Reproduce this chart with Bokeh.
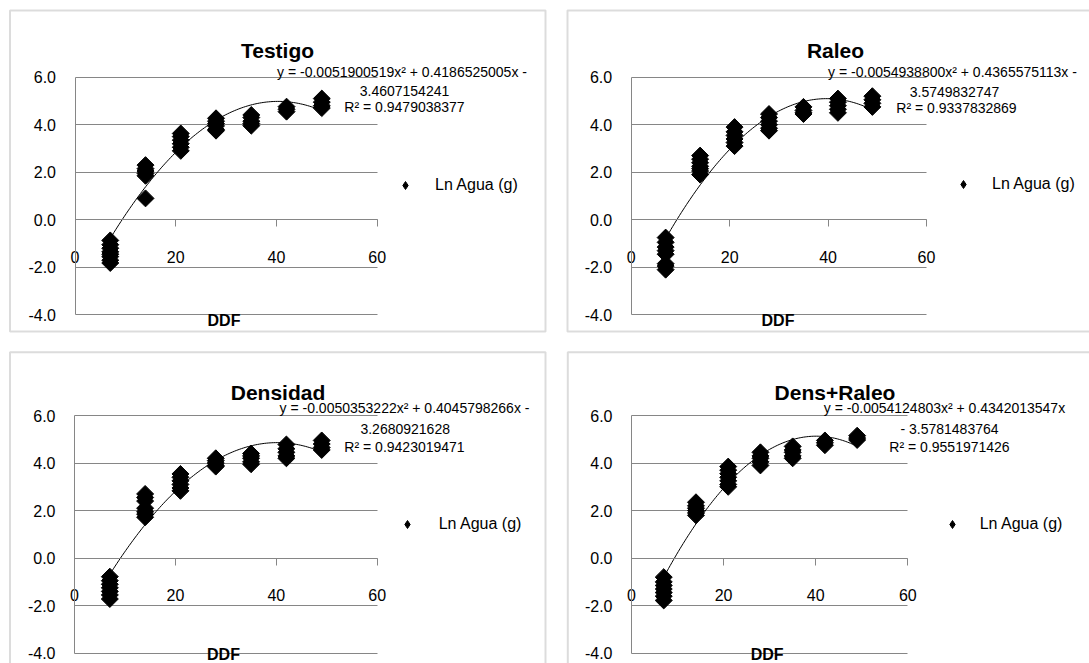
import numpy as np
from bokeh.plotting import figure
from bokeh.layouts import column, row
from bokeh.models import (Range1d, FixedTicker, PrintfTickFormatter, Label,
                          Legend, LegendItem, BoxAnnotation)
from bokeh.embed import file_html
from bokeh.resources import INLINE

# ---------------- data ----------------
days = [7, 14, 21, 28, 35, 42, 49]
x_ticks = [0, 20, 40, 60]
y_ticks = [-4, -2, 0, 2, 4, 6]
legend_label = "Ln Agua (g)"
x_title = "DDF"

testigo_vals = [
    [-0.87, -1.05, -1.2, -1.35, -1.45, -1.55, -1.7, -1.82],
    [2.3, 2.15, 2.05, 1.95, 1.85, 0.9],
    [3.63, 3.5, 3.35, 3.2, 3.05, 2.9],
    [4.27, 4.15, 4.05, 3.95, 3.8, 3.75],
    [4.41, 4.3, 4.15, 4.05, 3.96],
    [4.76, 4.65, 4.55],
    [5.1, 4.95, 4.8, 4.7],
]
raleo_vals = [
    [-0.75, -0.95, -1.15, -1.3, -1.45, -1.85, -1.95, -2.1],
    [2.7, 2.55, 2.4, 2.25, 2.15, 2.05, 1.9],
    [3.9, 3.7, 3.55, 3.4, 3.25, 3.1],
    [4.45, 4.3, 4.15, 4.0, 3.85, 3.75],
    [4.75, 4.6, 4.5, 4.45],
    [5.1, 4.95, 4.8, 4.65, 4.5],
    [5.2, 5.05, 4.9, 4.75],
]
densidad_vals = [
    [-0.78, -0.95, -1.1, -1.25, -1.4, -1.55, -1.72],
    [2.7, 2.55, 2.4, 2.1, 1.95, 1.85, 1.72],
    [3.54, 3.4, 3.25, 3.1, 2.95, 2.83],
    [4.2, 4.1, 4.0, 3.9, 3.85],
    [4.4, 4.3, 4.2, 4.05, 3.95],
    [4.78, 4.6, 4.45, 4.3, 4.2],
    [4.95, 4.8, 4.65, 4.55],
]
densraleo_vals = [
    [-0.8, -1.0, -1.15, -1.3, -1.45, -1.6, -1.78],
    [2.35, 2.2, 2.1, 2.0, 1.9, 1.8],
    [3.85, 3.7, 3.55, 3.4, 3.25, 3.1, 3.0],
    [4.45, 4.3, 4.2, 4.05, 3.9],
    [4.7, 4.55, 4.45, 4.3, 4.2],
    [4.95, 4.85, 4.75],
    [5.15, 5.05, 4.97],
]

coef_testigo = [-0.0051900519, 0.4186525005, -3.4607154241]
coef_raleo = [-0.0054938800, 0.4365575113, -3.5749832747]
coef_densidad = [-0.0050353222, 0.4045798266, -3.2680921628]
coef_densraleo = [-0.0054124803, 0.4342013547, -3.5781483764]

eq_testigo = ["y = -0.0051900519x\u00b2 + 0.4186525005x -", "3.4607154241", "R\u00b2 = 0.9479038377"]
eq_raleo = ["y = -0.0054938800x\u00b2 + 0.4365575113x -", "3.5749832747", "R\u00b2 = 0.9337832869"]
eq_densidad = ["y = -0.0050353222x\u00b2 + 0.4045798266x -", "3.2680921628", "R\u00b2 = 0.9423019471"]
eq_densraleo = ["y = -0.0054124803x\u00b2 + 0.4342013547x", "- 3.5781483764", "R\u00b2 = 0.9551971426"]

# ---------------- style / layout ----------------
FONT = "Liberation Sans"
GRID = "#868686"
BORDER = "#8c8c8c"


def make_panel(spec, title, vals, coef, eq):
    fw, fh = spec["size"]
    x0p, x60p = spec["x0"], spec["x60"]
    y6p, ym4p = spec["y6"], spec["ym4"]
    sx = (x60p - x0p) / 60.0
    sy = (ym4p - y6p) / 10.0

    def X(px):
        return (px - x0p) / sx

    def Y(py):
        return 6 + (y6p - py) / sy

    p = figure(width=fw, height=fh, output_backend="svg", toolbar_location=None,
               x_range=Range1d(X(0), X(fw)), y_range=Range1d(Y(fh), Y(0)),
               min_border=0, min_border_left=0, min_border_right=0,
               min_border_top=0, min_border_bottom=0)
    p.outline_line_color = None
    p.background_fill_color = "white"
    p.border_fill_color = "white"

    # panel border
    bl, bt, br_, bb = spec["border"]
    p.add_layout(BoxAnnotation(left=X(bl), right=X(br_), top=Y(bt), bottom=Y(bb),
                               fill_alpha=0, line_color=BORDER, line_width=2))

    # axes
    xa = p.xaxis[0]
    xa.fixed_location = 0
    xa.bounds = (x_ticks[0], x_ticks[-1])
    xa.ticker = FixedTicker(ticks=x_ticks)
    xa.axis_line_color = GRID
    xa.major_tick_line_color = GRID
    xa.major_tick_out = 7
    xa.major_tick_in = 0
    xa.minor_tick_out = 0
    xa.minor_tick_in = 0
    xa.major_label_text_font = FONT
    xa.major_label_text_font_size = "16px"
    xa.major_label_text_color = "black"
    xa.major_label_standoff = 24

    ya = p.yaxis[0]
    ya.fixed_location = 0
    ya.bounds = (y_ticks[0], y_ticks[-1])
    ya.ticker = FixedTicker(ticks=y_ticks)
    ya.formatter = PrintfTickFormatter(format="%.1f")
    ya.axis_line_color = GRID
    ya.major_tick_line_color = None
    ya.major_tick_out = 0
    ya.major_tick_in = 0
    ya.minor_tick_out = 0
    ya.minor_tick_in = 0
    ya.major_label_text_font = FONT
    ya.major_label_text_font_size = "16px"
    ya.major_label_text_color = "black"
    ya.major_label_standoff = 19

    p.xgrid.visible = False
    p.ygrid.ticker = FixedTicker(ticks=y_ticks)
    p.ygrid.grid_line_color = GRID
    try:
        p.ygrid.cross_bounds = (x_ticks[0], x_ticks[-1])
    except AttributeError:
        p.ygrid.visible = False
        p.segment(x0=[x_ticks[0]] * len(y_ticks), x1=[x_ticks[-1]] * len(y_ticks),
                  y0=y_ticks, y1=y_ticks, line_color=GRID, line_width=1)

    # trend line
    xs = np.linspace(days[0], days[-1], 120)
    ys = coef[0] * xs ** 2 + coef[1] * xs + coef[2]
    p.line(xs, ys, line_color="black", line_width=1)

    # data points (diamonds)
    px_ = [d for d, grp in zip(days, vals) for _ in grp]
    py_ = [v for grp in vals for v in grp]
    # narrow diamond glyph (used for the legend swatch), covered by the rotated squares
    r_leg = p.scatter(px_, py_, marker="diamond", size=10,
                      fill_color="black", line_color="black")
    p.scatter(px_, py_, marker="square", size=12, angle=np.pi / 4,
              fill_color="black", line_color="black")

    # title
    tx, ty = spec["title"]
    p.add_layout(Label(x=X(tx), y=Y(ty), text=title, text_align="center",
                       text_baseline="alphabetic", text_font=FONT,
                       text_font_size="21px", text_font_style="bold",
                       text_color="black"))
    # equation
    for (ex, ey), txt in zip(spec["eq"], eq):
        p.add_layout(Label(x=X(ex), y=Y(ey), text=txt, text_align="center",
                           text_baseline="alphabetic", text_font=FONT,
                           text_font_size="14px", text_color="black"))
    # x axis title
    dx, dy = spec["ddf"]
    p.add_layout(Label(x=X(dx), y=Y(dy), text=x_title, text_align="center",
                       text_baseline="alphabetic", text_font=FONT,
                       text_font_size="16px", text_font_style="bold",
                       text_color="black"))

    # legend
    mx, my, tstart = spec["legend"]
    gw = 20
    leg = Legend(items=[LegendItem(label=legend_label, renderers=[r_leg])],
                 location=(mx - gw / 2, fh - (my + gw / 2)),
                 padding=0, margin=0, spacing=0, border_line_color=None,
                 background_fill_alpha=0, glyph_width=gw, glyph_height=gw,
                 label_height=gw, label_standoff=int(round(tstart - (mx + gw / 2))),
                 label_text_font=FONT, label_text_font_size="16px",
                 label_text_color="black")
    p.add_layout(leg)
    return p


spec_tl = dict(size=(556, 341), x0=74.5, x60=376.7, y6=76.7, ym4=314.3,
               border=(9.5, 10, 545, 331), title=(277, 50),
               eq=[(401.5, 71.5), (404, 90.7), (404, 106)],
               ddf=(223.5, 320), legend=(405, 185, 435))
spec_tr = dict(size=(533, 341), x0=74.7, x60=370, y6=76.7, ym4=314.3,
               border=(11, 10, 570, 331), title=(279, 50),
               eq=[(396, 71), (398, 91), (400, 107)],
               ddf=(221.5, 320), legend=(407, 184, 435.7))
spec_bl = dict(size=(556, 322), x0=74, x60=376.7, y6=74, ym4=311.7,
               border=(9.5, 10.7, 545, 345), title=(277.5, 50.7),
               eq=[(404, 66), (404.7, 87), (404, 105)],
               ddf=(223, 313), legend=(406.7, 183, 438.3))
spec_br = dict(size=(533, 322), x0=75, x60=351.3, y6=74, ym4=311.7,
               border=(11.3, 10.7, 570, 345), title=(278.5, 50.7),
               eq=[(388, 66), (393, 87), (393, 105)],
               ddf=(210.7, 313), legend=(395.7, 183, 423.3))

p_tl = make_panel(spec_tl, "Testigo", testigo_vals, coef_testigo, eq_testigo)
p_tr = make_panel(spec_tr, "Raleo", raleo_vals, coef_raleo, eq_raleo)
p_bl = make_panel(spec_bl, "Densidad", densidad_vals, coef_densidad, eq_densidad)
p_br = make_panel(spec_br, "Dens+Raleo", densraleo_vals, coef_densraleo, eq_densraleo)

layout = column(row(p_tl, p_tr), row(p_bl, p_br))

open("out.html", "w").write(file_html(layout, INLINE))
